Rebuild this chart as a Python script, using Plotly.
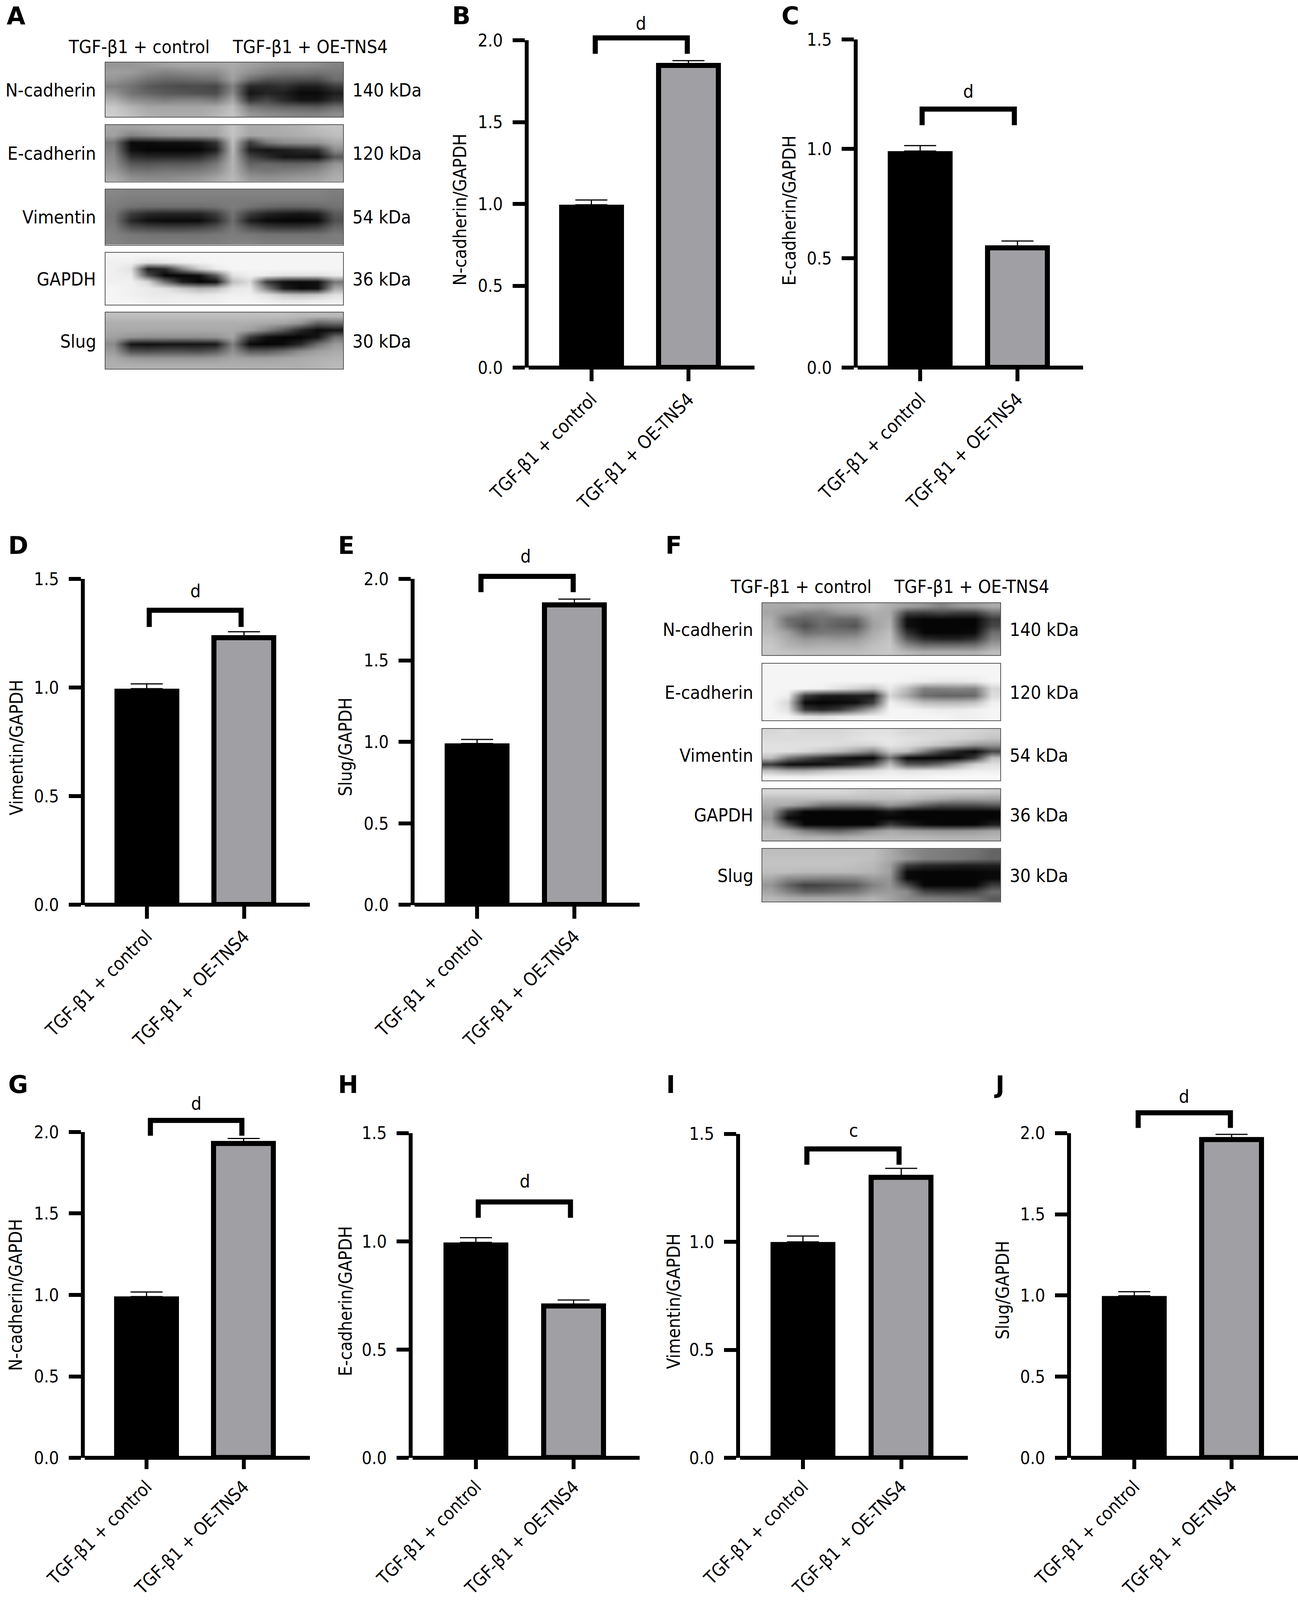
import plotly.graph_objects as go

W, H = 3322, 4256   # reference size: all geometry below is measured in these pixels
VIEW_H = 4096       # the browser's visible height; the figure is fitted to it so nothing is cut off
FONT = "DejaVu Sans Condensed"
TXT = 47
TITLE_TXT = 46
NUM_TXT = 45
GREY = "#A0A0A4"

# ---------- data ----------
categories = ["TGF-β1 + control", "TGF-β1 + OE-TNS4"]
panel_names = ["B", "C", "D", "E", "G", "H", "I", "J"]
y_titles = ["N-cadherin/GAPDH", "E-cadherin/GAPDH", "Vimentin/GAPDH", "Slug/GAPDH",
            "N-cadherin/GAPDH", "E-cadherin/GAPDH", "Vimentin/GAPDH", "Slug/GAPDH"]
y_max = [2.0, 1.5, 1.5, 2.0, 2.0, 1.5, 1.5, 2.0]
ticks_2 = [0.0, 0.5, 1.0, 1.5, 2.0]
ticks_15 = [0.0, 0.5, 1.0, 1.5]
control_mean = [0.995, 0.99, 0.995, 0.99, 0.99, 0.995, 1.0, 0.998]
control_top = [1.024, 1.015, 1.017, 1.015, 1.018, 1.017, 1.027, 1.023]
oe_mean = [1.846, 0.547, 1.228, 1.840, 1.929, 0.701, 1.298, 1.959]
oe_top = [1.875, 0.579, 1.257, 1.876, 1.960, 0.729, 1.340, 1.992]
sig_marks = ["d", "d", "d", "d", "d", "d", "c", "d"]
bracket_left = [0.04, 0.02, 0.026, 0.04, 0.04, 0.024, 0.04, 0.04]
bracket_right = [0.988, 0.968, 0.97, 0.988, 0.982, 0.968, 0.978, 0.988]
bracket_top = [2.014, 1.182, 1.356, 2.016, 2.071, 1.182, 1.430, 2.125]
bracket_foot = [1.917, 1.108, 1.279, 1.919, 1.977, 1.109, 1.357, 2.032]

proteins = ["N-cadherin", "E-cadherin", "Vimentin", "GAPDH", "Slug"]
weights = ["140 kDa", "120 kDa", "54 kDa", "36 kDa", "30 kDa"]

A_ncad = [
 [150,150,155,160,165,165,165,170,160,150,145,145,140,130],
 [160,155,140,130,135,140,140,165,145,130,120,120,115,120],
 [150,135,115,105,105,110,115,160,110,85,85,80,80,110],
 [130,115,90,80,75,75,70,130,40,40,50,30,30,60],
 [150,115,100,90,85,80,75,140,20,35,30,10,10,30],
 [175,145,135,125,130,130,120,165,50,70,40,20,20,50],
 [200,180,165,165,165,165,170,190,120,110,100,95,90,110],
 [205,190,175,170,170,170,180,195,150,140,135,130,130,140]]
A_ecad = [
 [165,160,165,170,170,170,170,195,170,170,175,180,190,195],
 [160,130,140,150,155,155,160,195,165,170,170,175,180,190],
 [120,10,10,15,15,20,50,190,60,120,140,145,150,170],
 [130,15,5,5,5,5,30,185,30,20,30,40,50,140],
 [140,50,40,40,40,45,80,180,70,45,20,20,15,90],
 [145,90,85,90,90,95,120,180,100,105,100,100,110,150],
 [155,120,115,120,120,125,140,180,125,120,125,130,140,165],
 [170,145,140,140,145,150,165,185,150,145,150,155,160,175]]
A_vim = [
 [135,130,130,130,130,130,130,130,130,130,130,130,130,125],
 [130,125,125,125,125,125,125,125,125,125,125,125,125,120],
 [125,115,110,110,110,110,115,125,115,105,100,100,105,115],
 [120,60,40,35,35,35,60,115,60,35,25,20,30,90],
 [120,40,15,10,10,10,40,110,30,10,5,5,10,80],
 [125,80,70,65,65,70,85,120,80,60,55,55,65,105],
 [130,120,115,115,115,115,120,125,120,115,115,115,115,125],
 [130,125,125,125,125,125,125,130,130,125,125,125,125,125]]
A_gapdh = [
 [245,245,245,245,245,245,245,245,245,245,245,245,245,245],
 [240,240,225,230,238,242,245,245,245,245,245,245,245,245],
 [240,225,30,40,130,200,235,245,245,245,245,245,245,245],
 [240,235,80,5,5,15,90,225,240,235,225,225,225,235],
 [240,240,215,110,30,5,15,190,220,60,15,10,15,120],
 [245,240,235,225,200,180,190,230,235,130,30,10,15,170],
 [245,240,235,235,235,230,235,240,240,225,200,190,200,225],
 [245,245,240,238,240,240,240,245,245,240,235,235,238,240]]
A_slug = [
 [190,190,190,190,190,190,190,190,190,190,190,185,185,185],
 [175,175,175,175,175,175,175,175,175,170,165,150,100,110],
 [170,170,170,170,170,170,170,170,160,130,90,40,10,20],
 [160,150,145,145,145,145,150,165,60,15,5,5,20,110],
 [140,20,15,20,20,20,25,130,10,5,10,40,110,155],
 [155,80,75,80,80,75,90,145,90,90,110,140,160,170],
 [170,155,150,150,150,150,155,165,160,160,165,170,175,180],
 [175,175,175,175,175,175,175,175,175,175,175,175,180,185]]
F_ncad = [
 [170,165,170,165,175,180,190,175,160,150,130,150,155,170],
 [165,150,130,130,150,155,175,170,65,60,70,60,60,110],
 [175,110,100,115,105,105,165,175,15,5,5,5,5,60],
 [180,120,80,110,95,85,160,180,15,5,5,5,5,70],
 [185,160,110,120,120,120,170,190,50,5,5,5,10,110],
 [195,170,150,155,150,155,180,195,90,45,35,35,50,130],
 [200,180,170,175,175,175,190,200,140,110,110,110,115,160],
 [200,195,190,190,190,190,195,200,185,175,175,175,175,190]]
F_ecad = [
 [245,245,245,245,245,245,245,245,245,245,245,245,245,245],
 [245,245,245,245,245,245,245,245,245,245,245,245,245,245],
 [245,245,245,245,245,245,245,245,240,235,230,230,235,245],
 [245,245,245,240,225,210,190,235,190,130,130,135,130,215],
 [245,240,60,30,25,30,30,215,170,110,100,100,105,220],
 [245,215,10,5,10,15,60,240,220,190,185,185,195,240],
 [245,225,60,40,60,110,170,245,245,240,235,235,240,245],
 [245,245,230,225,235,240,245,245,245,245,245,240,240,245]]
F_vim = [
 [215,220,215,215,215,220,225,225,215,215,215,215,210,205],
 [220,220,220,220,220,225,230,230,225,220,215,210,205,195],
 [225,225,225,225,220,215,215,230,220,210,195,175,150,150],
 [225,225,215,200,185,160,130,200,190,130,70,30,10,70],
 [190,120,80,50,25,10,5,120,10,5,5,10,60,190],
 [60,15,10,15,30,50,90,190,90,85,110,160,210,225],
 [190,170,170,185,200,210,220,235,225,230,230,235,240,240],
 [245,245,240,245,245,245,245,245,245,245,250,250,250,250]]
F_gapdh = [
 [215,215,215,215,215,210,205,205,210,205,205,205,205,200],
 [190,190,190,190,190,190,190,190,190,180,170,160,160,160],
 [175,170,150,120,115,115,120,150,130,100,80,80,80,90],
 [160,50,5,5,5,5,5,25,5,5,5,5,5,5],
 [150,10,5,5,5,5,5,5,5,5,5,5,5,5],
 [170,80,5,5,5,5,5,60,30,10,5,5,5,30],
 [190,170,130,110,100,120,150,170,160,155,150,150,155,165],
 [190,190,180,180,175,180,185,185,185,185,180,180,180,185]]
F_slug = [
 [190,190,190,190,190,190,190,170,145,130,125,120,115,100],
 [195,195,195,195,195,195,190,170,150,130,125,120,110,100],
 [195,195,195,195,195,190,185,160,60,40,35,30,30,30],
 [190,190,185,185,185,185,180,160,10,5,5,5,5,10],
 [170,140,135,130,130,135,155,150,10,5,5,5,5,10],
 [150,100,65,70,80,90,130,150,80,5,5,5,5,60],
 [165,130,100,100,110,120,150,155,140,70,60,60,70,110],
 [185,175,170,170,170,170,180,165,140,130,125,120,115,90]]
blots_A = [A_ncad, A_ecad, A_vim, A_gapdh, A_slug]
blots_F = [F_ncad, F_ecad, F_vim, F_gapdh, F_slug]

# ---------- layout geometry (pixels) ----------
axis_x = [1348, 2190, 212, 1056, 212, 1051, 1889, 2736]
axis_right = [1931, 2772, 793, 1637, 793, 1637, 2477, 3322]
y_zero = [978, 978, 2407, 2407, 3878, 3878, 3878, 3878]
y_top = [107, 105, 1540, 1540, 3011, 3014, 3016, 3014]
tick_c0 = [1513.5, 2355, 375.5, 1221, 375, 1218, 2055, 2903]
tick_c1 = [1762, 2604, 624.5, 1470, 623.5, 1468, 2306.5, 3152]
ylab_x = [1177, 2020, 42, 884, 40, 884, 1724, 2566]
ylab_y = [558, 560, 1989, 1987, 3445, 3461, 3462, 3432]
sig_x = [1640, 2478, 500, 1345, 502, 1343, 2184, 3030]
sig_y = [62, 243, 1572, 1479, 2935, 3142, 3007, 2916]
x_ticklen = [34, 34, 34, 34, 28, 28, 28, 28]
cat_size = [47, 47, 47, 47, 46, 46, 46, 46]
LW = 10
BRACKET_LW = 13
BAR_LINE = 13

letters = [("A", 15, 42), ("B", 1155, 42), ("C", 1998, 42), ("D", 19, 1451), ("E", 863, 1451),
           ("F", 1701, 1450), ("G", 19, 2885), ("H", 863, 2885), ("I", 1703, 2885), ("J", 2542, 2885)]

blot_geo = [
    dict(x0=270, x1=878, rows=[(166, 311), (332, 483), (504, 651), (672, 810), (831, 981)],
         lab_r=248, kda_l=900, lab_y=[239, 408, 577, 742, 908],
         head=[(356, 124), (793, 124)], data=blots_A),
    dict(x0=1951, x1=2560, rows=[(1604, 1743), (1765, 1916), (1939, 2076), (2099, 2236), (2258, 2398)],
         lab_r=1930, kda_l=2582, lab_y=[1674, 1842, 2009, 2168, 2329],
         head=[(2050, 1560), (2486, 1560)], data=blots_F),
]

px = lambda v: v / W
py = lambda v: 1 - v / H

fig = go.Figure()
layout = dict(width=W, height=VIEW_H, margin=dict(l=0, r=0, t=0, b=0, pad=0), plot_bgcolor="white",
              paper_bgcolor="white", showlegend=False, font=dict(family=FONT, size=TXT, color="black"),
              bargap=0, template="none")
ann = []
shapes = []


def text(s, x, y, xa="center", size=TXT, family=FONT, angle=0):
    ann.append(dict(text=s, x=px(x), y=py(y), xref="paper", yref="paper", xanchor=xa, yanchor="middle",
                    showarrow=False, textangle=angle, font=dict(size=size, family=family, color="black")))


ax = 0
# bar panels
for i in range(8):
    ax += 1
    sfx = "" if ax == 1 else str(ax)
    xn, yn = "x" + sfx, "y" + sfx
    s = tick_c1[i] - tick_c0[i]
    left = axis_x[i] + LW / 2
    right = axis_right[i]
    rng = [(left - tick_c0[i]) / s, (right - tick_c0[i]) / s]
    wb = 166 / s
    wg = (166 - BAR_LINE) / s
    fig.add_trace(go.Bar(
        x=[0, 1], y=[control_mean[i], oe_mean[i]], xaxis=xn, yaxis=yn, width=[wb, wg],
        marker=dict(color=["black", GREY], line=dict(color="black", width=[0, BAR_LINE])),
        error_y=dict(type="data", symmetric=False,
                     array=[control_top[i] - control_mean[i], oe_top[i] - oe_mean[i]],
                     arrayminus=[0, 0], color="black", thickness=3, width=41),
        cliponaxis=False, hoverinfo="skip"))
    # significance bracket, placed from data values on axis-domain references so it may rise above the axis
    fx = lambda v: (v - rng[0]) / (rng[1] - rng[0])
    fy = lambda v: v / y_max[i]
    shapes.append(dict(
        type="path", xref=xn + " domain", yref=yn + " domain",
        path="M %.5f %.5f L %.5f %.5f L %.5f %.5f L %.5f %.5f" % (
            fx(bracket_left[i]), fy(bracket_foot[i]), fx(bracket_left[i]), fy(bracket_top[i]),
            fx(bracket_right[i]), fy(bracket_top[i]), fx(bracket_right[i]), fy(bracket_foot[i])),
        line=dict(color="black", width=BRACKET_LW), fillcolor="rgba(0,0,0,0)"))
    layout["xaxis" + sfx] = dict(
        domain=[px(left), px(right)], range=rng, anchor=yn, tickmode="array", tickvals=[0, 1],
        ticktext=categories, tickangle=-45, ticks="outside", ticklen=x_ticklen[i], tickwidth=LW, tickcolor="black",
        showgrid=False, zeroline=False, showline=False, ticklabelstandoff=0, automargin=False,
        tickfont=dict(family=FONT, size=cat_size[i], color="black"))
    layout["yaxis" + sfx] = dict(
        domain=[py(y_zero[i]), py(y_top[i])], range=[-0.0001, y_max[i]], anchor=xn, tickmode="array",
        tickvals=ticks_2 if y_max[i] == 2.0 else ticks_15, tickformat=".1f", ticks="outside", ticklen=31,
        tickwidth=LW, tickcolor="black", showline=True, linewidth=LW, linecolor="black", showgrid=False,
        zeroline=True, zerolinewidth=LW, zerolinecolor="black", ticklabelstandoff=16, automargin=False,
        tickfont=dict(family=FONT, size=NUM_TXT, color="black"))
    text(y_titles[i], ylab_x[i], ylab_y[i], angle=-90, size=TITLE_TXT)
    text(sig_marks[i], sig_x[i], sig_y[i])

# western blots
for g in blot_geo:
    for r, (y0, y1) in enumerate(g["rows"]):
        ax += 1
        sfx = str(ax)
        z = g["data"][r]
        fig.add_trace(go.Heatmap(z=z, xaxis="x" + sfx, yaxis="y" + sfx, colorscale=[[0, "black"], [1, "white"]],
                                 zmin=0, zmax=255, showscale=False, zsmooth="best", hoverinfo="skip"))
        frame = dict(showline=True, mirror=True, linewidth=2, linecolor="#555555", showgrid=False, zeroline=False,
                     ticks="", showticklabels=False, automargin=False)
        layout["xaxis" + sfx] = dict(domain=[px(g["x0"]), px(g["x1"])], range=[-0.5, len(z[0]) - 0.5],
                                     anchor="y" + sfx, **frame)
        layout["yaxis" + sfx] = dict(domain=[py(y1), py(y0)], range=[len(z) - 0.5, -0.5], anchor="x" + sfx, **frame)
        text(proteins[r], g["lab_r"], g["lab_y"][r], xa="right")
        text(weights[r], g["kda_l"], g["lab_y"][r], xa="left")
    for c, (hx, hy) in zip(categories, g["head"]):
        text(c, hx, hy)

for t, x, y in letters:
    text("<b>%s</b>" % t, x, y, xa="left", size=62, family="DejaVu Sans")

layout["annotations"] = ann
layout["shapes"] = shapes
fig.update_layout(**layout)
fig.write_html("out.html", config=dict(displayModeBar=False),
               post_script="document.body.style.margin='0';")
